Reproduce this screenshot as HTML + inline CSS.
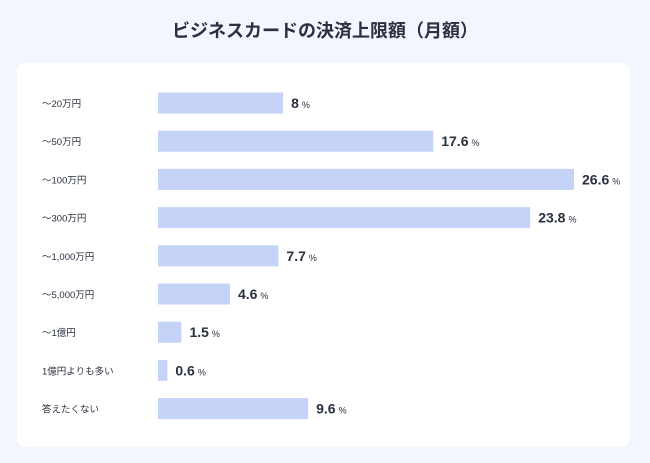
<!DOCTYPE html>
<html><head><meta charset="utf-8"><style>
body{margin:0;width:650px;height:463px;background:#f3f6fe;font-family:"Liberation Sans","Noto Sans CJK JP",sans-serif;overflow:hidden;position:relative}
#title{position:absolute;top:17px;left:0;width:650px;text-align:center;font-size:18px;font-weight:bold;color:#2b3040}
#card{position:absolute;left:17px;top:63px;width:613px;height:384px;background:#fff;border-radius:8px}
</style></head><body>
<div id="title">ビジネスカードの決済上限額（月額）</div>
<div id="card"><svg id="chart" width="613" height="384"></svg></div>
<script>
const categories=["〜20万円","〜50万円","〜100万円","〜300万円","〜1,000万円","〜5,000万円","〜1億円","1億円よりも多い","答えたくない"];
const values=[8,17.6,26.6,23.8,7.7,4.6,1.5,0.6,9.6];
const valueLabels=["8","17.6","26.6","23.8","7.7","4.6","1.5","0.6","9.6"];
const svg=document.getElementById('chart');
const NS='http://www.w3.org/2000/svg';
const x0=141, scale=416/26.6;
function xs(v){return v*scale;}
function yc(i){return 40+i*38.2;}
categories.forEach((c,i)=>{
  const y=yc(i);
  const t=document.createElementNS(NS,'text');
  
  
  t.setAttribute('x',25);t.setAttribute('y',y+4);t.setAttribute('font-size','9.5');t.setAttribute('fill','#2b3040');
  t.textContent=c;svg.appendChild(t);
  const r=document.createElementNS(NS,'rect');
  
  
  r.setAttribute('x',x0);r.setAttribute('y',y-10.5);r.setAttribute('width',xs(values[i]));r.setAttribute('height',21);r.setAttribute('fill','#c5d3f9');
  svg.appendChild(r);
  const v=document.createElementNS(NS,'text');
  
  
  v.setAttribute('x',x0+xs(values[i])+8);v.setAttribute('y',y+5);v.setAttribute('fill','#2b3040');
  v.innerHTML='<tspan font-size="14" font-weight="bold">'+valueLabels[i]+'</tspan><tspan font-size="9" dx="3">%</tspan>';
  svg.appendChild(v);
});
</script>
</body></html>
